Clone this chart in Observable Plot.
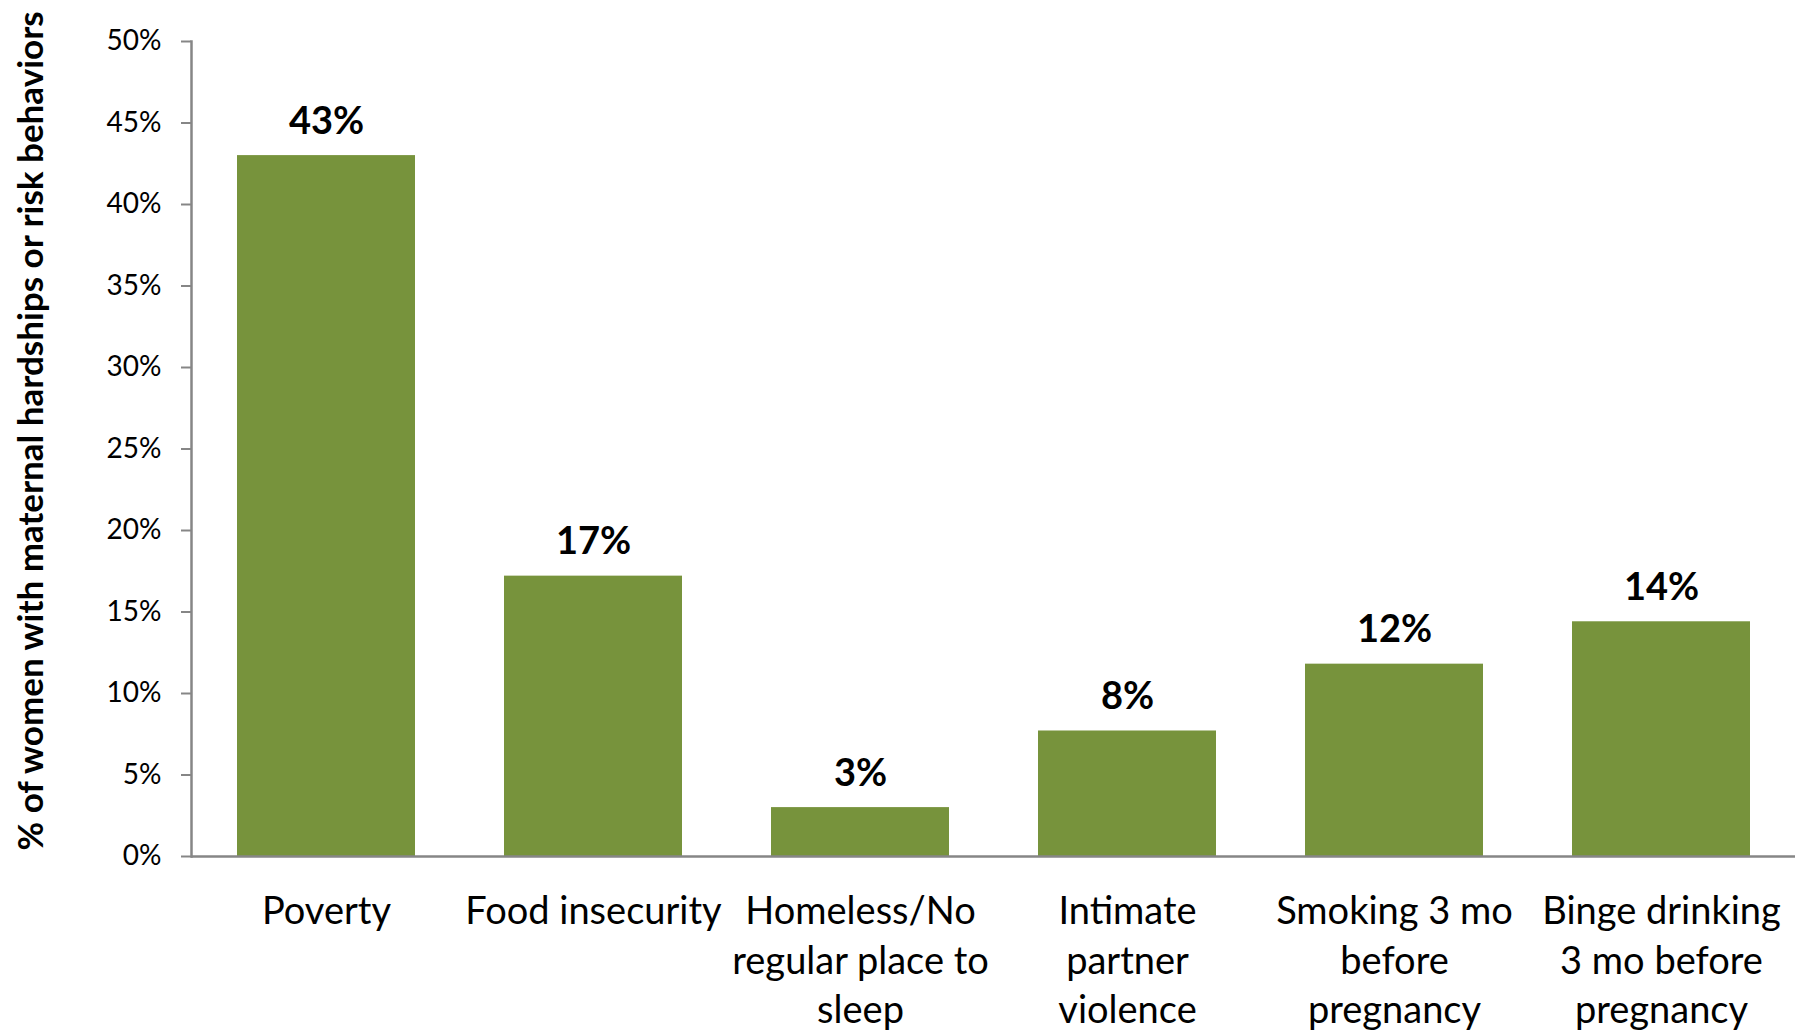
<!DOCTYPE html>
<html><head><meta charset="utf-8">
<script src="https://cdn.jsdelivr.net/npm/d3@7"></script>
<script src="https://cdn.jsdelivr.net/npm/@observablehq/plot@0.6"></script>
<style>html,body{margin:0;padding:0;background:#fff}svg{display:block}</style>
</head><body><div id="chart"></div>
<script>
const categories = ["Poverty", "Food insecurity", "Homeless/No regular place to sleep", "Intimate partner violence", "Smoking 3 mo before pregnancy", "Binge drinking 3 mo before pregnancy"];
const categoryLines = ["Poverty", "Food insecurity", "Homeless/No\nregular place to\nsleep", "Intimate\npartner\nviolence", "Smoking 3 mo\nbefore\npregnancy", "Binge drinking\n3 mo before\npregnancy"];
const values = [43.0, 17.2, 3.0, 7.7, 11.8, 14.4];
const valueLabels = ["43%", "17%", "3%", "8%", "12%", "14%"];
const yTicks = [0, 5, 10, 15, 20, 25, 30, 35, 40, 45, 50];
const yTitle = "% of women with maternal hardships or risk behaviors";

const data = categories.map((c, i) => ({category: c, value: values[i], label: valueLabels[i]}));
const lineMap = new Map(categories.map((c, i) => [c, categoryLines[i]]));

const chart = Plot.plot({
  width: 1807,
  height: 1032,
  marginLeft: 191,
  marginRight: 12,
  marginTop: 41,
  marginBottom: 176,
  style: {fontFamily: "Lato, sans-serif", background: "#fff", color: "#000"},
  x: {domain: categories, paddingInner: 0.334, paddingOuter: 0.167, axis: null},
  y: {domain: [0, 50], axis: null},
  marks: [
    Plot.barY(data, {x: "category", y: "value", fill: "#77933C"}),
    Plot.axisY({ticks: yTicks, tickSize: 10, tickPadding: 20, tickFormat: d => d + "%", fontSize: 28, stroke: "#868686", fill: "#000", strokeWidth: 2, label: null}),
    Plot.frame({anchor: "left", stroke: "#868686", strokeWidth: 2.5}),
    Plot.ruleY([0], {stroke: "#868686", strokeWidth: 2.5}),
    Plot.axisX({tickSize: 0, tickPadding: 32, tickFormat: d => lineMap.get(d), fontSize: 38, lineHeight: 1.31, fill: "#000", label: null}),
    Plot.text(data, {x: "category", y: "value", text: "label", dy: -22, lineAnchor: "bottom", fontSize: 38, fontWeight: "bold", fill: "#000"}),
    Plot.text([yTitle], {text: d => d, frameAnchor: "left", rotate: -90, dx: -149, dy: -18, lineAnchor: "bottom", textAnchor: "middle", fontWeight: "bold", fontSize: 35, fill: "#000"})
  ]
});
document.getElementById("chart").appendChild(chart);
</script>
</body></html>
